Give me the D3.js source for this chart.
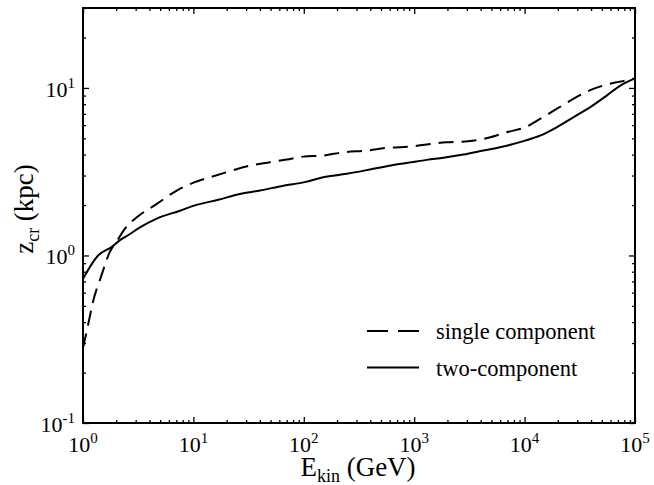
<!DOCTYPE html>
<html>
<head>
<meta charset="utf-8">
<script src="https://cdn.jsdelivr.net/npm/d3@7"></script>
<style>
  body { margin: 0; background: #fff; }
</style>
</head>
<body>
<svg width="654" height="485"></svg>
<script>
// single component (dashed)
var singleE = [1, 1.11, 1.23, 1.47, 1.75, 2.0, 2.39, 3.07, 4.66, 7.06, 10.3, 14.1, 20, 32.6, 49.4, 70, 99, 150, 228, 372, 564, 982, 1390, 1970, 3090, 4690, 6880, 10100, 13800, 19500, 27600, 41900, 59400, 84100, 100000];
var singleZ = [0.28, 0.383, 0.527, 0.76, 1.05, 1.2, 1.44, 1.69, 2.03, 2.44, 2.74, 2.93, 3.14, 3.44, 3.6, 3.74, 3.89, 3.95, 4.13, 4.23, 4.39, 4.48, 4.63, 4.74, 4.81, 5.04, 5.44, 5.82, 6.53, 7.49, 8.6, 9.87, 10.6, 11.1, 11.4];
// two-component (solid)
var twoE = [1, 1.37, 1.8, 2.15, 2.56, 3.28, 4.65, 7.56, 10.3, 16.8, 26.4, 40.1, 65.2, 102, 150, 245, 426, 647, 1050, 1300, 1840, 2790, 4230, 6410, 10100, 13800, 19500, 27600, 39100, 55400, 73100, 100000];
var twoZ = [0.726, 1.0, 1.12, 1.23, 1.32, 1.47, 1.66, 1.85, 1.99, 2.15, 2.33, 2.44, 2.61, 2.74, 2.93, 3.07, 3.29, 3.47, 3.64, 3.72, 3.83, 4.0, 4.23, 4.47, 4.85, 5.19, 5.82, 6.68, 7.66, 9.0, 10.3, 11.4];

var xPowers = [0, 1, 2, 3, 4, 5];
var yPowers = [-1, 0, 1];
var legendLabels = ["single component", "two-component"];

var serif = "'Liberation Serif', 'Times New Roman', serif";

var svg = d3.select("svg"),
    margin = {top: 8, right: 19, bottom: 62, left: 83},
    width = +svg.attr("width") - margin.left - margin.right,
    height = +svg.attr("height") - margin.top - margin.bottom,
    g = svg.append("g").attr("transform", "translate(" + margin.left + "," + margin.top + ")");

var x = d3.scaleLog().domain([1, 1e5]).range([0, width]);
var y = d3.scaleLog().domain([0.1, 30]).range([height, 0]);

// minor tick values
var xMinor = [], yMinor = [];
xPowers.slice(0, -1).forEach(function(p) {
  for (var k = 2; k < 10; k++) xMinor.push(k * Math.pow(10, p));
});
[-1, 0, 1].forEach(function(p) {
  for (var k = 2; k < 10; k++) {
    var v = k * Math.pow(10, p);
    if (v <= 30) yMinor.push(v);
  }
});
var xMajor = xPowers.map(function(p) { return Math.pow(10, p); });
var yMajor = yPowers.map(function(p) { return Math.pow(10, p); });

function tickAxis(axisFn, scale, values, size, transform) {
  var a = g.append("g")
      .attr("transform", transform || null)
      .call(axisFn(scale).tickValues(values).tickSizeInner(-size).tickSizeOuter(0).tickFormat(""));
  a.select(".domain").remove();
  a.selectAll("line").attr("stroke", "#000").attr("stroke-width", 1.3);
}

tickAxis(d3.axisBottom, x, xMajor, 6, "translate(0," + height + ")");
tickAxis(d3.axisBottom, x, xMinor, 3, "translate(0," + height + ")");
tickAxis(d3.axisTop, x, xMajor, 6);
tickAxis(d3.axisTop, x, xMinor, 3);
tickAxis(d3.axisLeft, y, yMajor, 6);
tickAxis(d3.axisLeft, y, yMinor, 3);
tickAxis(d3.axisRight, y, yMajor, 6, "translate(" + width + ",0)");
tickAxis(d3.axisRight, y, yMinor, 3, "translate(" + width + ",0)");

g.append("rect")
    .attr("width", width)
    .attr("height", height)
    .attr("fill", "none")
    .attr("stroke", "#000")
    .attr("stroke-width", 2);

// tick labels
g.selectAll(".xlab")
  .data(xPowers)
  .enter().append("text")
    .attr("class", "xlab")
    .attr("x", function(p) { return x(Math.pow(10, p)); })
    .attr("y", height + 29)
    .attr("text-anchor", "middle")
    .style("font-family", serif)
    .style("font-size", "22px")
    .each(function(p) {
      var t = d3.select(this);
      t.append("tspan").text("10");
      t.append("tspan").attr("dy", -9).style("font-size", "15px").text(p);
    });

g.selectAll(".ylab")
  .data(yPowers)
  .enter().append("text")
    .attr("class", "ylab")
    .attr("x", -8)
    .attr("y", function(p) { return y(Math.pow(10, p)) + 9; })
    .attr("text-anchor", "end")
    .style("font-family", serif)
    .style("font-size", "22px")
    .each(function(p) {
      var t = d3.select(this);
      t.append("tspan").text("10");
      t.append("tspan").attr("dy", -9).style("font-size", "15px").text(p);
    });

// axis titles
var xt = g.append("text")
    .attr("x", width / 2 - 1)
    .attr("y", height + 53)
    .attr("text-anchor", "middle")
    .style("font-family", serif)
    .style("font-size", "27px");
xt.append("tspan").text("E");
xt.append("tspan").attr("dy", 6).style("font-size", "18px").text("kin");
xt.append("tspan").attr("dy", -6).text(" (GeV)");

var yt = svg.append("text")
    .attr("transform", "translate(33,209) rotate(-90)")
    .attr("text-anchor", "middle")
    .style("font-family", serif)
    .style("font-size", "27px");
yt.append("tspan").text("z");
yt.append("tspan").attr("dy", 6).style("font-size", "18px").text("cr");
yt.append("tspan").attr("dy", -6).text(" (kpc)");

// curves
var line = d3.line()
    .x(function(d) { return x(d[0]); })
    .y(function(d) { return y(d[1]); })
    .curve(d3.curveMonotoneX);

g.append("path")
    .datum(singleE.map(function(e, i) { return [e, singleZ[i]]; }))
    .attr("d", line)
    .attr("fill", "none")
    .attr("stroke", "#000")
    .attr("stroke-width", 2)
    .attr("stroke-dasharray", "15,8");

g.append("path")
    .datum(twoE.map(function(e, i) { return [e, twoZ[i]]; }))
    .attr("d", line)
    .attr("fill", "none")
    .attr("stroke", "#000")
    .attr("stroke-width", 2);

// legend
var legend = svg.append("g")
  .selectAll("g")
  .data(legendLabels)
  .enter().append("g")
    .attr("transform", function(d, i) { return "translate(0," + (331 + i * 36.5) + ")"; });

legend.append("line")
    .attr("x1", 367)
    .attr("x2", 419)
    .attr("stroke", "#000")
    .attr("stroke-width", 2)
    .attr("stroke-dasharray", function(d, i) { return i === 0 ? "21,10" : null; });

legend.append("text")
    .attr("x", 436)
    .attr("y", 8)
    .style("font-family", serif)
    .style("font-size", "22.5px")
    .text(function(d) { return d; });
</script>
</body>
</html>
